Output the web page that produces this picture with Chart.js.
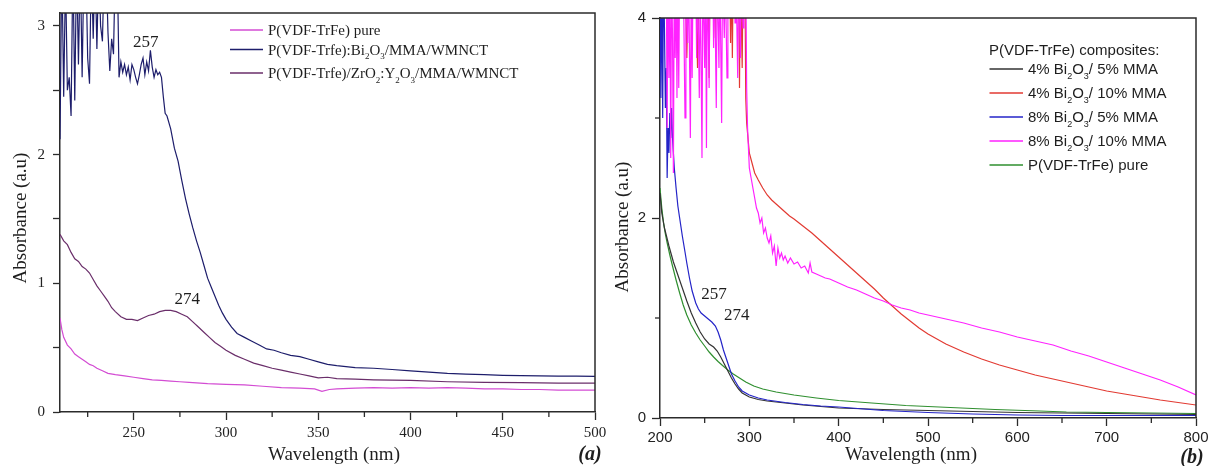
<!DOCTYPE html>
<html>
<head>
<meta charset="utf-8">
<title>UV-Vis absorbance of P(VDF-TrFe) composites</title>
<script src="https://cdn.jsdelivr.net/npm/chart.js@4.4.0/dist/chart.umd.min.js"></script>
<style>
  html, body { margin: 0; padding: 0; background: #fff; }
  body { width: 1209px; height: 466px; position: relative; overflow: hidden; }
  #chartA { position: absolute; left: 0; top: 0; }
  #chartB { position: absolute; left: 600px; top: 0; }
</style>
</head>
<body>
<canvas id="chartA" width="610" height="466"></canvas>
<canvas id="chartB" width="609" height="466"></canvas>
<script>
// =============================================================================
// DATA - panel (a)
// =============================================================================

const aNames = [
    'P(VDF-TrFe) pure',
    'P(VDF-Trfe):Bi_2O_3/MMA/WMNCT',
    'P(VDF-Trfe)/ZrO_2:Y_2O_3/MMA/WMNCT'
];

const aPureWl = [210, 211, 212, 214, 216, 218, 220, 222, 224, 226,
    228, 230, 233, 236, 240, 245, 250, 255, 260, 265,
    270, 275, 280, 290, 300, 310, 320, 330, 340, 348,
    352, 356, 360, 370, 380, 390, 400, 410, 420, 430,
    440, 450, 460, 470, 480, 490, 500];
const aPure = [0.73, 0.64, 0.58, 0.52, 0.49, 0.45, 0.43, 0.41, 0.39, 0.37,
    0.36, 0.34, 0.32, 0.3, 0.29, 0.28, 0.27, 0.26, 0.25, 0.245,
    0.24, 0.235, 0.23, 0.22, 0.215, 0.21, 0.2, 0.19, 0.185, 0.18,
    0.16, 0.175, 0.18, 0.185, 0.19, 0.185, 0.19, 0.185, 0.19, 0.185,
    0.18, 0.18, 0.175, 0.175, 0.17, 0.17, 0.17];

const aBiWl = [210, 211, 212, 213, 214, 215, 216, 217, 218, 219,
    220, 221, 222, 223, 224, 225, 226, 227, 228, 229,
    230, 231, 232, 233, 234, 235, 236, 237, 238, 239,
    240, 241, 242, 243, 244, 245, 246, 247, 248, 249,
    250, 251, 252, 253, 254, 255, 256, 257, 258, 259,
    260, 261, 262, 263, 264, 265, 266, 267, 268, 270,
    272, 274, 276, 278, 280, 282, 284, 286, 288, 290,
    292, 294, 296, 298, 300, 303, 306, 310, 314, 318,
    322, 326, 330, 335, 340, 345, 350, 355, 360, 370,
    380, 390, 400, 410, 420, 430, 440, 450, 460, 470,
    480, 490, 500];
const aBi = [2.12, 3.5, 2.45, 3.4, 2.5, 2.6, 2.3, 3.5, 2.42, 3.5,
    2.7, 3.5, 2.6, 3.5, 3.5, 2.75, 2.55, 3.5, 2.9, 3.5,
    2.82, 3.5, 3.0, 2.88, 3.5, 3.5, 2.95, 2.65, 2.9, 2.78,
    3.5, 3.5, 2.6, 2.72, 2.64, 2.7, 2.62, 2.68, 2.58, 2.7,
    2.66, 2.6, 2.55, 2.62, 2.7, 2.75, 2.62, 2.72, 2.65, 2.81,
    2.68, 2.6, 2.66, 2.62, 2.64, 2.6, 2.45, 2.32, 2.3, 2.2,
    2.05, 1.95, 1.8, 1.66, 1.54, 1.43, 1.33, 1.24, 1.14, 1.04,
    0.97, 0.9, 0.83, 0.77, 0.72, 0.66, 0.61, 0.58, 0.55, 0.52,
    0.49, 0.48, 0.46, 0.44, 0.43, 0.41, 0.39, 0.37, 0.36, 0.345,
    0.34, 0.33, 0.32, 0.31, 0.3, 0.295, 0.29, 0.285, 0.283, 0.28,
    0.279, 0.278, 0.277];

const aZrWl = [210, 212, 214, 216, 218, 220, 222, 224, 226, 228,
    230, 232, 234, 236, 238, 240, 243, 246, 249, 252,
    255, 258, 261, 264, 267, 270, 273, 276, 279, 282,
    285, 288, 291, 294, 297, 300, 305, 310, 315, 320,
    325, 330, 335, 340, 345, 350, 355, 360, 370, 380,
    390, 400, 420, 440, 460, 480, 500];
const aZr = [1.38, 1.33, 1.3, 1.24, 1.19, 1.17, 1.13, 1.11, 1.08, 1.03,
    0.98, 0.94, 0.9, 0.86, 0.81, 0.78, 0.74, 0.72, 0.72, 0.71,
    0.73, 0.75, 0.76, 0.78, 0.79, 0.79, 0.78, 0.76, 0.74, 0.7,
    0.66, 0.62, 0.58, 0.54, 0.51, 0.48, 0.44, 0.41, 0.38, 0.36,
    0.34, 0.325, 0.31, 0.295, 0.28, 0.265, 0.27, 0.26, 0.255, 0.25,
    0.248, 0.245, 0.235, 0.23, 0.228, 0.225, 0.224];

const aXLabelled = [250, 300, 350, 400, 450, 500];
const aXMinor = [225, 275, 325, 375, 425, 475];
const aYLabelled = [0, 1, 2, 3];
const aYHalf = [0.5, 1.5, 2.5];

// =============================================================================
// DATA - panel (b)
// =============================================================================

const bTitle = 'P(VDF-TrFe) composites:';
const bNames = [
    '4% Bi_2O_3/ 5% MMA',
    '4% Bi_2O_3/ 10% MMA',
    '8% Bi_2O_3/ 5% MMA',
    '8% Bi_2O_3/ 10% MMA',
    'P(VDF-TrFe) pure'
];

const bBlackWl = [200, 202, 205, 210, 215, 220, 225, 230, 235, 240,
    245, 250, 255, 260, 264, 268, 272, 276, 280, 284,
    288, 292, 296, 300, 310, 320, 340, 360, 380, 400,
    450, 500, 550, 600, 650, 700, 750, 800];
const bBlack = [2.25, 2.05, 1.9, 1.72, 1.56, 1.43, 1.3, 1.17, 1.05, 0.95,
    0.86, 0.79, 0.74, 0.71, 0.67, 0.61, 0.54, 0.47, 0.4, 0.34,
    0.29, 0.25, 0.23, 0.21, 0.185, 0.17, 0.15, 0.13, 0.115, 0.1,
    0.085, 0.075, 0.065, 0.055, 0.05, 0.045, 0.04, 0.035];

const bRedWl = [200, 228, 230, 232, 240, 242, 244, 254, 255, 256,
    261, 262, 263, 278, 279, 280, 281, 282, 288, 289,
    290, 292, 293, 295, 296, 297, 299, 300, 303, 306,
    310, 315, 320, 325, 330, 335, 340, 345, 350, 360,
    370, 380, 390, 400, 410, 420, 430, 440, 450, 460,
    470, 480, 490, 500, 520, 540, 560, 580, 600, 620,
    640, 660, 680, 700, 720, 740, 760, 780, 800];
const bRed = [4.5, 4.5, 3.6, 4.5, 4.5, 3.5, 4.5, 4.5, 3.4, 4.5,
    4.5, 3.8, 4.5, 4.5, 3.75, 4.5, 3.6, 4.5, 4.5, 3.3,
    4.5, 3.5, 4.5, 4.5, 3.2, 2.95, 2.75, 2.65, 2.55, 2.45,
    2.38, 2.3, 2.23, 2.18, 2.14, 2.1, 2.06, 2.02, 1.99, 1.92,
    1.85, 1.77, 1.69, 1.61, 1.53, 1.45, 1.37, 1.29, 1.2, 1.12,
    1.04, 0.97, 0.9, 0.84, 0.74, 0.66, 0.59, 0.53, 0.48, 0.43,
    0.39, 0.35, 0.31, 0.27, 0.24, 0.21, 0.18, 0.155, 0.13];

const bBlueWl = [200, 201, 202, 203, 204, 205, 206, 207, 208, 209,
    210, 211, 212, 213, 214, 216, 218, 220, 222, 225,
    228, 230, 233, 236, 240, 243, 246, 250, 254, 258,
    262, 265, 268, 271, 274, 277, 280, 284, 288, 292,
    296, 300, 310, 320, 340, 360, 380, 400, 450, 500,
    550, 600, 650, 700, 750, 800];
const bBlue = [4.5, 3.2, 4.5, 3.0, 4.5, 3.9, 3.1, 3.5, 2.4, 2.9,
    2.65, 3.05, 2.8, 3.1, 2.8, 2.5, 2.3, 2.12, 2.0, 1.82,
    1.66, 1.55, 1.4, 1.27, 1.15, 1.09, 1.05, 1.02, 0.99, 0.96,
    0.92, 0.86, 0.78, 0.68, 0.6, 0.52, 0.44, 0.37, 0.31, 0.27,
    0.25, 0.23, 0.2, 0.18, 0.155, 0.135, 0.12, 0.11, 0.075, 0.055,
    0.04, 0.03, 0.025, 0.025, 0.025, 0.025];

const bMagWl = [200, 207, 208, 209, 210, 211, 212, 213, 214, 215,
    216, 217, 218, 219, 220, 221, 222, 226, 228, 229,
    231, 232, 234, 235, 236, 237, 240, 241, 242, 244,
    245, 247, 248, 250, 251, 252, 253, 255, 256, 259,
    260, 261, 263, 264, 266, 267, 269, 270, 272, 273,
    275, 276, 283, 284, 285, 287, 288, 290, 291, 293,
    294, 296, 297, 298, 300, 302, 305, 308, 310, 312,
    314, 316, 318, 320, 322, 324, 326, 328, 330, 332,
    334, 336, 338, 340, 343, 346, 350, 354, 358, 362,
    366, 368, 370, 375, 380, 385, 390, 395, 400, 410,
    420, 430, 440, 450, 460, 470, 480, 490, 500, 520,
    540, 560, 580, 600, 620, 640, 660, 680, 700, 720,
    740, 760, 780, 800];
const bMag = [4.5, 4.5, 2.9, 4.5, 3.4, 4.5, 2.6, 4.5, 3.8, 2.45,
    4.5, 3.6, 4.5, 3.2, 4.5, 3.3, 4.5, 4.5, 3.0, 4.5,
    3.75, 4.5, 2.8, 4.5, 3.4, 4.5, 4.5, 3.6, 4.5, 3.2,
    4.5, 2.6, 4.5, 3.5, 4.5, 2.7, 4.5, 3.3, 4.5, 4.5,
    3.7, 4.5, 3.1, 4.5, 3.5, 4.5, 2.95, 4.5, 3.8, 4.5,
    3.4, 4.5, 4.5, 3.95, 4.5, 3.4, 4.5, 3.6, 4.5, 3.9,
    4.5, 4.5, 3.3, 2.9, 2.5, 2.4, 2.25, 2.1, 2.05, 1.95,
    2.0, 1.85, 1.9, 1.8, 1.75, 1.82, 1.65, 1.72, 1.52, 1.7,
    1.6, 1.65, 1.58, 1.62, 1.55, 1.6, 1.54, 1.56, 1.5, 1.52,
    1.45, 1.55, 1.46, 1.44, 1.42, 1.4, 1.39, 1.37, 1.35, 1.31,
    1.28, 1.24, 1.2, 1.17, 1.13, 1.1, 1.08, 1.05, 1.03, 0.99,
    0.95, 0.9, 0.86, 0.81, 0.77, 0.73, 0.67, 0.62, 0.56, 0.5,
    0.44, 0.38, 0.31, 0.23];

const bGreenWl = [200, 202, 204, 206, 208, 211, 214, 218, 222, 226,
    230, 235, 240, 245, 250, 255, 260, 265, 270, 276,
    282, 289, 296, 305, 315, 330, 350, 375, 400, 437,
    475, 525, 575, 625, 655, 700, 750, 800];
const bGreen = [2.3, 2.1, 1.95, 1.84, 1.75, 1.63, 1.52, 1.38, 1.25, 1.13,
    1.03, 0.93, 0.85, 0.78, 0.72, 0.66, 0.61, 0.565, 0.525, 0.48,
    0.44, 0.4, 0.36, 0.32, 0.29, 0.26, 0.23, 0.2, 0.175, 0.15,
    0.125, 0.105, 0.085, 0.07, 0.06, 0.055, 0.05, 0.045];

const bXLabelled = [200, 300, 400, 500, 600, 700, 800];
const bXMinor = [250, 350, 450, 550, 650, 750];
const bYLabelled = [0, 2, 4];
const bYMinor = [1, 3];

// peak annotations, placed in data units (wavelength, absorbance)
const aPeaks = [{ text: '257', x: 256.5, y: 2.87 }, { text: '274', x: 279, y: 0.87 }];
const bPeaks = [{ text: '257', x: 260.5, y: 1.23 }, { text: '274', x: 286, y: 1.02 }];

// =============================================================================
// HELPERS
// =============================================================================

const serif = "'Liberation Serif', 'Times New Roman', serif";
const sans = "'Liberation Sans', Arial, sans-serif";
const axisColor = '#2b2b2b';

function pts(wl, vals) {
    return wl.map((x, i) => ({ x: x, y: vals[i] }));
}

function series(name, wl, vals, color, order) {
    return {
        label: name.replace(/_/g, ''),
        data: pts(wl, vals),
        borderColor: color,
        backgroundColor: color,
        borderWidth: 1.2,
        pointRadius: 0,
        tension: 0,
        order: order
    };
}

// text with "_2" style subscripts
function drawRich(ctx, str, x, yMid, size, family) {
    const base = yMid + size * 0.35;
    ctx.textAlign = 'left';
    ctx.textBaseline = 'alphabetic';
    str.split(/(_\d)/).forEach(part => {
        if (!part) return;
        if (part[0] === '_') {
            ctx.font = Math.round(size * 0.62) + 'px ' + family;
            ctx.fillText(part.slice(1), x, base + size * 0.3);
            x += ctx.measureText(part.slice(1)).width;
        } else {
            ctx.font = size + 'px ' + family;
            ctx.fillText(part, x, base);
            x += ctx.measureText(part).width;
        }
    });
}

function axis(pos, min, max, labelled, longMarks, shortMarks, font, size, pad, tickLen) {
    const all = longMarks.concat(shortMarks).sort((p, q) => p - q);
    return {
        type: 'linear',
        position: pos,
        min: min,
        max: max,
        afterBuildTicks: s => { s.ticks = all.map(v => ({ value: v })); },
        afterFit: s => {
            if (pos === 'bottom') s.height = size;
            else s.width = size;
            s.paddingLeft = 0; s.paddingRight = 0; s.paddingTop = 0; s.paddingBottom = 0;
        },
        ticks: {
            autoSkip: false,
            maxRotation: 0,
            padding: pad,
            color: '#222',
            font: font,
            callback: v => labelled.includes(v) ? String(v) : ''
        },
        grid: {
            drawOnChartArea: false,
            tickLength: tickLen,
            tickWidth: 1.3,
            color: axisColor,
            tickColor: c => longMarks.includes(c.tick.value) ? axisColor : 'rgba(0,0,0,0)'
        },
        border: { display: true, color: axisColor, width: 1.5 }
    };
}

// frame, short ticks, titles, peak labels, legend
function decor(p) {
    return {
        id: 'decor',
        afterDraw(chart) {
            const ctx = chart.ctx, a = chart.chartArea;
            const sx = chart.scales.x, sy = chart.scales.y;
            ctx.save();

            ctx.strokeStyle = axisColor;
            ctx.lineWidth = 1.5;
            ctx.beginPath();
            ctx.moveTo(a.left, a.top);
            ctx.lineTo(a.right, a.top);
            ctx.lineTo(a.right, a.bottom);
            ctx.stroke();

            ctx.lineWidth = 1.3;
            p.xShort.forEach(v => {
                const px = sx.getPixelForValue(v);
                ctx.beginPath(); ctx.moveTo(px, a.bottom); ctx.lineTo(px, a.bottom + 5); ctx.stroke();
            });
            p.yShort.forEach(v => {
                const py = sy.getPixelForValue(v);
                ctx.beginPath(); ctx.moveTo(a.left, py); ctx.lineTo(a.left - 5, py); ctx.stroke();
            });

            ctx.fillStyle = '#1e1e1e';
            ctx.textAlign = 'center';
            ctx.textBaseline = 'middle';
            ctx.font = '19px ' + serif;
            ctx.fillText('Wavelength (nm)', p.xTitle[0], p.xTitle[1]);
            ctx.save();
            ctx.translate(p.yTitle[0], p.yTitle[1]);
            ctx.rotate(-Math.PI / 2);
            ctx.fillText('Absorbance (a.u)', 0, 0);
            ctx.restore();

            ctx.font = '17px ' + serif;
            p.peaks.forEach(n => ctx.fillText(n.text, sx.getPixelForValue(n.x), sy.getPixelForValue(n.y)));

            ctx.font = 'italic bold 20px ' + serif;
            ctx.fillText(p.letter, p.letterAt[0], p.letterAt[1]);

            const lg = p.legend;
            if (lg.title) drawRich(ctx, lg.title, lg.titleAt[0], lg.titleAt[1], lg.size, lg.family);
            lg.rows.forEach(r => {
                ctx.strokeStyle = r.color;
                ctx.lineWidth = 1.4;
                ctx.beginPath(); ctx.moveTo(lg.lineX[0], r.y); ctx.lineTo(lg.lineX[1], r.y); ctx.stroke();
                ctx.fillStyle = '#1e1e1e';
                drawRich(ctx, r.label, lg.textX, r.y, lg.size, lg.family);
            });
            ctx.restore();
        }
    };
}

function makeChart(id, datasets, scales, padding, plugin) {
    return new Chart(document.getElementById(id), {
        type: 'line',
        data: { datasets: datasets },
        options: {
            responsive: false,
            animation: false,
            events: [],
            layout: { padding: padding },
            plugins: { legend: { display: false }, tooltip: { enabled: false } },
            scales: scales
        },
        plugins: [plugin]
    });
}

// =============================================================================
// PANEL (a)
// =============================================================================

const aColors = ['#d34cd3', '#1d1d6b', '#6a2e6a'];

makeChart('chartA', [
    series(aNames[0], aPureWl, aPure, aColors[0], 2),
    series(aNames[1], aBiWl, aBi, aColors[1], 0),
    series(aNames[2], aZrWl, aZr, aColors[2], 1)
], {
    x: axis('bottom', 210, 500, aXLabelled, aXLabelled, aXMinor, { family: serif, size: 15 }, 54, 4, 8),
    y: axis('left', 0, 3.1, aYLabelled, aYLabelled.concat(aYHalf), [], { family: serif, size: 15 }, 60, 8, 7)
}, { left: 0, top: 13, right: 15, bottom: 0 }, decor({
    xShort: aXMinor, yShort: [],
    xTitle: [334, 455], yTitle: [21, 218],
    peaks: aPeaks,
    letter: '(a)', letterAt: [590, 455],
    legend: {
        family: serif, size: 15, lineX: [230, 263], textX: 268,
        rows: [
            { y: 30, color: aColors[0], label: aNames[0] },
            { y: 49.5, color: aColors[1], label: aNames[1] },
            { y: 73, color: aColors[2], label: aNames[2] }
        ]
    }
}));

// =============================================================================
// PANEL (b)
// =============================================================================

const bColors = ['#333333', '#e23a32', '#2424c8', '#ff22ff', '#2f8f2f'];

makeChart('chartB', [
    series(bNames[0], bBlackWl, bBlack, bColors[0], 3),
    series(bNames[1], bRedWl, bRed, bColors[1], 1),
    series(bNames[2], bBlueWl, bBlue, bColors[2], 2),
    series(bNames[3], bMagWl, bMag, bColors[3], 0),
    series(bNames[4], bGreenWl, bGreen, bColors[4], 4)
], {
    x: axis('bottom', 200, 800, bXLabelled, bXLabelled, bXMinor, { family: sans, size: 15 }, 48, 3, 8),
    y: axis('left', 0, 4, bYLabelled, bYLabelled, bYMinor, { family: sans, size: 15 }, 60, 6, 8)
}, { left: 0, top: 18, right: 13, bottom: 0 }, decor({
    xShort: bXMinor, yShort: bYMinor,
    xTitle: [311, 455], yTitle: [23, 227],
    peaks: bPeaks,
    letter: '(b)', letterAt: [592, 458],
    legend: {
        family: sans, size: 15, lineX: [389.5, 423], textX: 428,
        title: bTitle, titleAt: [389, 50],
        rows: bNames.map((n, i) => ({ y: 69 + i * 24, color: bColors[i], label: n }))
    }
}));
</script>
</body>
</html>
